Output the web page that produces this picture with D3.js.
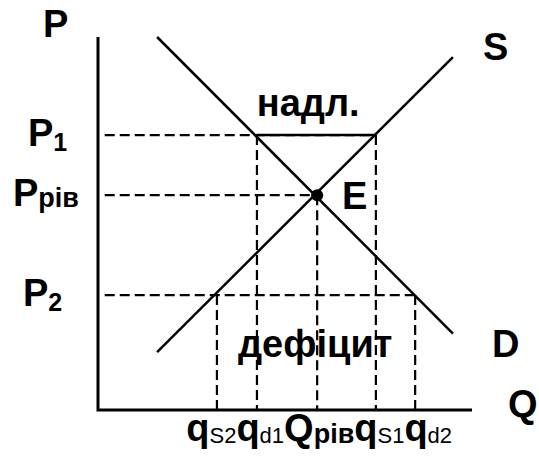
<!DOCTYPE html>
<html>
<head>
<meta charset="utf-8">
<script src="https://cdn.jsdelivr.net/npm/d3@7"></script>
<style>
    body { margin: 0; background: white; }
    text { font-family: "Liberation Sans", Arial, sans-serif; font-weight: bold; fill: black; }
</style>
</head>
<body>
<div id="canvas"></div>
<script>
"use strict"

/* Data (chart units 0-10 on both axes) */
let demandLine = [[1.58, 10.0], [9.49, 2.05]];   // D
let supplyLine = [[1.58, 1.55], [9.49, 9.46]];   // S
let equilibrium = { q: 5.86, p: 5.76 };          // E
let prices = { p1: 7.37, p2: 3.08 };
let quantities = { qs2: 3.18, qd1: 4.25, qs1: 7.43, qd2: 8.48 };

/* Label texts */
let priceLabels = [
    { main: "P", sub: "1", key: "p1" },
    { main: "P", sub: "рів", key: "eq" },
    { main: "P", sub: "2", key: "p2" }
];
let qLabels = [
    { main: "q", sub: "S2" },
    { main: "q", sub: "d1" },
    { main: "Q", sub: "рів" },
    { main: "q", sub: "S1" },
    { main: "q", sub: "d2" }
];

/* Drawing config */
let svgWidth = 539;
let svgHeight = 461;

let svg = d3.select("#canvas")
    .append("svg")
    .attr("width", svgWidth)
    .attr("height", svgHeight);

let xScale = d3.scaleLinear()
    .domain([0, 10])
    .range([98, 472]);

let yScale = d3.scaleLinear()
    .domain([0, 10])
    .range([410, 37]);

let line = d3.line()
    .x(d => xScale(d[0]))
    .y(d => yScale(d[1]));

/* dashed guide lines */
let dashes = [
    [[0, prices.p1], [quantities.qs1, prices.p1]],
    [[0, equilibrium.p], [equilibrium.q, equilibrium.p]],
    [[0, prices.p2], [quantities.qd2, prices.p2]],
    [[quantities.qs2, prices.p2], [quantities.qs2, 0]],
    [[quantities.qd1, prices.p1], [quantities.qd1, 0]],
    [[equilibrium.q, equilibrium.p], [equilibrium.q, 0]],
    [[quantities.qs1, prices.p1], [quantities.qs1, 0]],
    [[quantities.qd2, prices.p2], [quantities.qd2, 0]]
];

svg.selectAll(".guide")
    .data(dashes)
    .join("path")
    .attr("class", "guide")
    .attr("d", d => line([[d[0][0] + (d[0][0] == 0 ? 0.18 : 0), d[0][1]], d[1]]))
    .attr("fill", "none")
    .attr("stroke", "black")
    .attr("stroke-width", 2.2)
    .attr("stroke-dasharray", "10,5");

/* surplus segment (solid) */
svg.append("path")
    .attr("d", line([[quantities.qd1, prices.p1], [quantities.qs1, prices.p1]]))
    .attr("stroke", "black")
    .attr("stroke-width", 2.5);

/* axes */
svg.append("path")
    .attr("d", line([[0, 10], [0, 0], [10, 0]]))
    .attr("fill", "none")
    .attr("stroke", "black")
    .attr("stroke-width", 3);

/* demand and supply */
svg.append("path")
    .attr("d", line(demandLine))
    .attr("stroke", "black")
    .attr("stroke-width", 2.5);

svg.append("path")
    .attr("d", line(supplyLine))
    .attr("stroke", "black")
    .attr("stroke-width", 2.5);

svg.append("circle")
    .attr("cx", xScale(equilibrium.q))
    .attr("cy", yScale(equilibrium.p))
    .attr("r", 6)
    .attr("fill", "black");

/* axis letters */
svg.append("text").attr("x", 43).attr("y", 37).style("font-size", "38px").text("P");
svg.append("text").attr("x", 508).attr("y", 417).style("font-size", "38px").text("Q");
svg.append("text").attr("x", 483).attr("y", 60).style("font-size", "38px").text("S");
svg.append("text").attr("x", 492).attr("y", 357).style("font-size", "38px").text("D");
svg.append("text").attr("x", 342).attr("y", 209).style("font-size", "38px").text("E");

svg.append("text")
    .attr("x", xScale(equilibrium.q) - 9)
    .attr("y", 116)
    .attr("text-anchor", "middle")
    .style("font-size", "38px")
    .text("надл.");

svg.append("text")
    .attr("x", xScale(equilibrium.q) - 2)
    .attr("y", 357)
    .attr("text-anchor", "middle")
    .style("font-size", "38px")
    .text("дефіцит");

/* price labels on the left */
let priceValue = { p1: prices.p1, eq: equilibrium.p, p2: prices.p2 };
let priceX = { p1: 28, eq: 13, p2: 23 };
let priceLabel = svg.selectAll(".plabel")
    .data(priceLabels)
    .join("text")
    .attr("class", "plabel")
    .attr("x", d => priceX[d.key])
    .attr("y", d => yScale(priceValue[d.key]) + 11)
    .style("font-size", "38px");

priceLabel.append("tspan").text(d => d.main);
priceLabel.append("tspan")
    .attr("dy", d => d.key == "eq" ? 1 : 5)
    .style("font-size", d => d.key == "eq" ? "27px" : "25px")
    .text(d => d.sub);

/* quantity labels along the bottom */
let qRow = svg.append("text")
    .attr("x", xScale(equilibrium.q) + 2)
    .attr("y", 443)
    .attr("text-anchor", "middle")
    .style("font-size", "38px");

qLabels.forEach(function(d) {
    qRow.append("tspan").attr("dy", -2).text(d.main);
    qRow.append("tspan")
        .attr("dy", 2)
        .style("font-size", d.main == "Q" ? "27px" : "22px")
        .style("font-weight", d.main == "Q" ? "bold" : "normal")
        .text(d.sub);
});
</script>
</body>
</html>
